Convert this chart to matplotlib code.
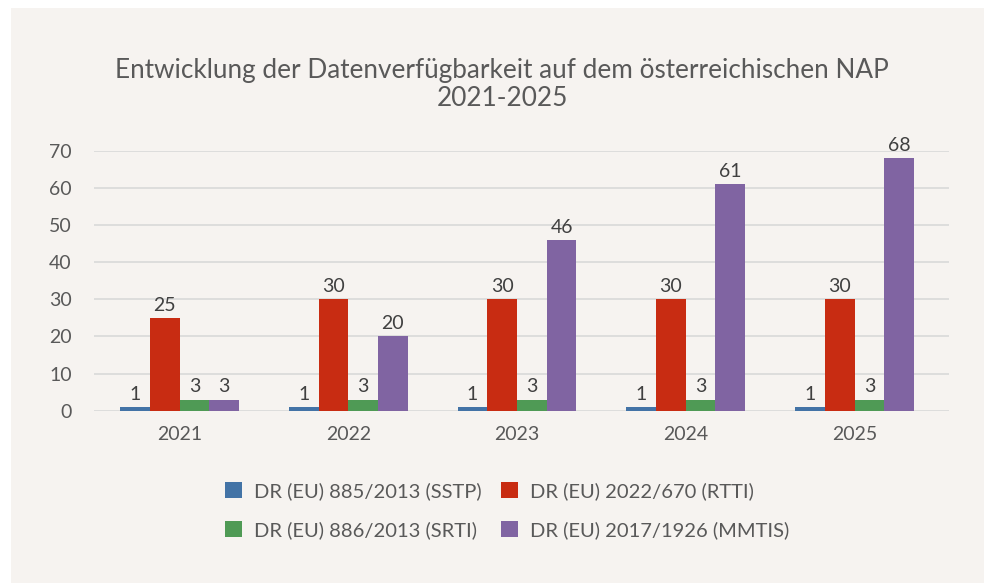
import matplotlib.pyplot as plt
import numpy as np
from matplotlib.patches import Rectangle

plt.rcParams['font.family'] = ['Lato', 'DejaVu Sans']

years = ['2021', '2022', '2023', '2024', '2025']
series = ['DR (EU) 885/2013 (SSTP)', 'DR (EU) 2022/670 (RTTI)',
          'DR (EU) 886/2013 (SRTI)', 'DR (EU) 2017/1926 (MMTIS)']
sstp = [1, 1, 1, 1, 1]
rtti = [25, 30, 30, 30, 30]
srti = [3, 3, 3, 3, 3]
mmtis = [3, 20, 46, 61, 68]
colors = ['#4373a6', '#c82c12', '#4f9a55', '#8064a2']

bg = '#f6f3f0'
txt = '#595959'

fig = plt.figure(figsize=(9.84, 5.83), dpi=100)
fig.patch.set_facecolor('white')
fig.add_artist(Rectangle((11 / 984, 0), 1, 1 - 8 / 583, transform=fig.transFigure,
                         facecolor=bg, edgecolor='none', zorder=-10))

ax = fig.add_axes([94 / 984, 1 - 410.7 / 583, (949 - 94) / 984, 259.9 / 583])
ax.set_facecolor('none')

x = np.arange(len(years))
w = 0.176
bars = []
for i, vals in enumerate([sstp, rtti, srti, mmtis]):
    b = ax.bar(x + (i - 1.5) * w, vals, width=w, color=colors[i], label=series[i], zorder=3)
    ax.bar_label(b, padding=3, fontsize=14, color='#404040')
    bars.append(b)

ax.set_xlim(-0.507, 4.56)
ax.set_ylim(0, 70)
ax.set_yticks(range(0, 71, 10))
ax.set_xticks(x)
ax.set_xticklabels(years)
ax.yaxis.grid(True, color='#d9d9d9', linewidth=1.2, zorder=0)
ax.tick_params(axis='y', length=0, pad=16, labelsize=14, labelcolor=txt)
ax.tick_params(axis='x', length=0, pad=11, labelsize=14, labelcolor=txt)
for s in ax.spines.values():
    s.set_visible(False)

ax.set_title('Entwicklung der Datenverfügbarkeit auf dem österreichischen NAP\n2021-2025',
             fontsize=18.8, color=txt, pad=32, x=(502 - 94) / (949 - 94),
             linespacing=1.15)

leg = fig.legend([bars[0], bars[2], bars[1], bars[3]],
                 [series[0], series[2], series[1], series[3]],
                 ncol=2, loc='center', bbox_to_anchor=(507.5 / 984, 1 - 510.5 / 583),
                 frameon=False, fontsize=14.5, labelcolor=txt,
                 handlelength=0.85, handleheight=0.85, handletextpad=0.6,
                 columnspacing=0.95, labelspacing=1.05)

fig.savefig('out.png', dpi=100, facecolor=fig.get_facecolor())
